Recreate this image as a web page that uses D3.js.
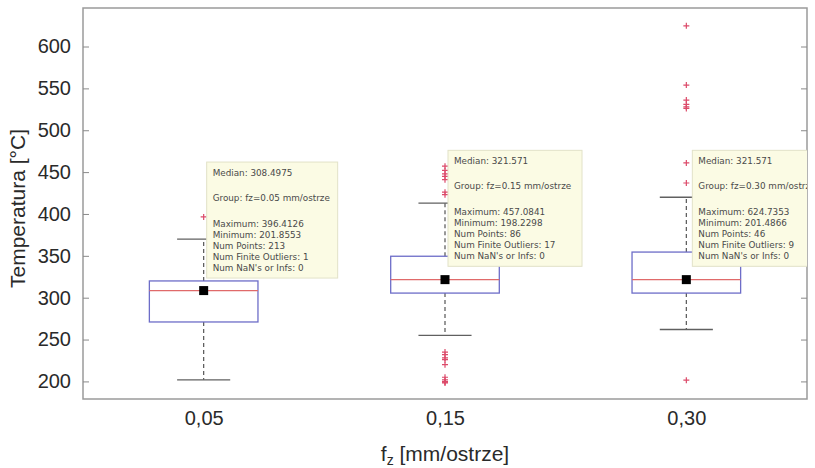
<!DOCTYPE html>
<html>
<head>
<meta charset="utf-8">
<script src="https://cdn.jsdelivr.net/npm/d3@7"></script>
<style>
  html, body { margin: 0; padding: 0; background: #ffffff; }
  svg { display: block; }
  text { font-family: "Liberation Sans", Arial, sans-serif; }
</style>
</head>
<body>
<svg id="chart" width="815" height="468"></svg>
<script>
// Cutting temperature grouped by feed per tooth
const categories = ["0,05", "0,15", "0,30"];
const groupNames = ["fz=0.05 mm/ostrze", "fz=0.15 mm/ostrze", "fz=0.30 mm/ostrze"];
const medians = [308.4975, 321.571, 321.571];
const q1 = [271, 305.5, 305.5];
const q3 = [320, 349.5, 354.5];
const whiskerLow = [201.8553, 255, 262];
const whiskerHigh = [370, 413, 420];
const maxima = [396.4126, 457.0841, 624.7353];
const minima = [201.8553, 198.2298, 201.4866];
const numPoints = [213, 86, 46];
const numOutliers = [1, 17, 9];
const numNaN = [0, 0, 0];
const outliers1 = [396.4126];
const outliers2 = [457.0841, 452, 448, 445, 441, 426, 423,
                   235, 232, 228, 226, 220, 205, 202, 200, 199, 198.2298];
const outliers3 = [624.7353, 554, 536, 531, 528, 526, 461, 437, 201.4866];
const outliers = [outliers1, outliers2, outliers3];
const yTicks = [200, 250, 300, 350, 400, 450, 500, 550, 600];

const svg = d3.select("#chart");
const frame = { left: 83, right: 807, top: 8, bottom: 399 };

const x = d3.scaleLinear().domain([0.5, 3.5]).range([frame.left, frame.right]);
const y = d3.scaleLinear().domain([179, 646]).range([frame.bottom, frame.top]);

const boxHalf = 0.225;   // half box width in category units
const capHalf = 0.11;    // half whisker-cap width

// axes frame
svg.append("rect")
  .attr("x", frame.left).attr("y", frame.top)
  .attr("width", frame.right - frame.left).attr("height", frame.bottom - frame.top)
  .attr("fill", "#ffffff").attr("stroke", "#9a9a9a").attr("stroke-width", 1.5);

// left axis: inward ticks + labels
const yAxisL = d3.axisLeft(y).tickValues(yTicks).tickSizeInner(-6).tickSizeOuter(0).tickPadding(12);
const gL = svg.append("g").attr("transform", `translate(${frame.left},0)`).call(yAxisL);
gL.select(".domain").remove();
gL.selectAll(".tick line").attr("stroke", "#8a8a8a");
gL.selectAll(".tick text")
  .attr("font-size", 20).attr("fill", "#2a2a2a")
  .style("font-family", "'Liberation Sans', Arial, sans-serif");

// right axis: inward ticks only
const yAxisR = d3.axisRight(y).tickValues(yTicks).tickSizeInner(-6).tickSizeOuter(0).tickFormat("");
const gR = svg.append("g").attr("transform", `translate(${frame.right},0)`).call(yAxisR);
gR.select(".domain").remove();
gR.selectAll(".tick line").attr("stroke", "#8a8a8a");

// bottom axis labels
const xAxis = d3.axisBottom(x).tickValues([1, 2, 3]).tickFormat((d, i) => categories[i])
  .tickSize(0).tickPadding(12);
const gB = svg.append("g").attr("transform", `translate(0,${frame.bottom})`).call(xAxis);
gB.select(".domain").remove();
gB.selectAll(".tick text")
  .attr("font-size", 20).attr("fill", "#2a2a2a")
  .style("font-family", "'Liberation Sans', Arial, sans-serif");

// axis titles
svg.append("text")
  .attr("transform", `translate(25,${(frame.top + frame.bottom) / 2 + 5}) rotate(-90)`)
  .attr("text-anchor", "middle").attr("font-size", 21).attr("fill", "#2a2a2a")
  .text("Temperatura [°C]");

const xt = svg.append("text")
  .attr("x", (frame.left + frame.right) / 2).attr("y", 461)
  .attr("text-anchor", "middle").attr("font-size", 21).attr("fill", "#2a2a2a");
xt.append("tspan").text("f");
xt.append("tspan").attr("font-size", 14).attr("dy", 4).text("z");
xt.append("tspan").attr("dy", -4).text(" [mm/ostrze]");

// boxes
const plot = svg.append("g");
const groups = categories.map((c, i) => ({
  pos: i + 1, med: medians[i], lo: q1[i], hi: q3[i],
  wl: whiskerLow[i], wh: whiskerHigh[i], out: outliers[i]
}));

groups.forEach(g => {
  const cx = x(g.pos);
  // whiskers (dashed)
  plot.append("line")
    .attr("x1", cx).attr("x2", cx).attr("y1", y(g.hi)).attr("y2", y(g.wh))
    .attr("stroke", "#555").attr("stroke-width", 1.2).attr("stroke-dasharray", "4,3");
  plot.append("line")
    .attr("x1", cx).attr("x2", cx).attr("y1", y(g.lo)).attr("y2", y(g.wl))
    .attr("stroke", "#555").attr("stroke-width", 1.2).attr("stroke-dasharray", "4,3");
  // caps
  [g.wh, g.wl].forEach(v => {
    plot.append("line")
      .attr("x1", x(g.pos - capHalf)).attr("x2", x(g.pos + capHalf))
      .attr("y1", y(v)).attr("y2", y(v))
      .attr("stroke", "#606060").attr("stroke-width", 1.4);
  });
  // box
  plot.append("rect")
    .attr("x", x(g.pos - boxHalf)).attr("y", y(g.hi))
    .attr("width", x(g.pos + boxHalf) - x(g.pos - boxHalf))
    .attr("height", y(g.lo) - y(g.hi))
    .attr("fill", "none").attr("stroke", "#6d6dc8").attr("stroke-width", 1.3);
  // median line
  plot.append("line")
    .attr("x1", x(g.pos - boxHalf)).attr("x2", x(g.pos + boxHalf))
    .attr("y1", y(g.med)).attr("y2", y(g.med))
    .attr("stroke", "#e06a6a").attr("stroke-width", 1.2);
  // outliers: red plus markers
  g.out.forEach(v => {
    const py = y(v);
    plot.append("path")
      .attr("d", `M${cx - 3},${py}H${cx + 3}M${cx},${py - 3}V${py + 3}`)
      .attr("stroke", "#dc4a6a").attr("stroke-width", 1.2).attr("fill", "none");
  });
});

// data tips, anchored by their top edge on the temperature scale
const tipLayout = [
  { dx: 3, top: 462, w: 131 },
  { dx: 3, top: 476, w: 134 },
  { dx: 6, top: 476, w: 134 }
];
svg.append("clipPath").attr("id", "frameClip")
  .append("rect").attr("x", frame.left).attr("y", frame.top)
  .attr("width", frame.right - frame.left).attr("height", frame.bottom - frame.top);

const tips = svg.append("g").attr("clip-path", "url(#frameClip)");
groups.forEach((g, i) => {
  const L = tipLayout[i];
  const tx = x(g.pos) + L.dx;
  const ty = y(L.top);
  const tg = tips.append("g").attr("transform", `translate(${tx},${ty})`);
  tg.append("rect").attr("width", L.w).attr("height", 116)
    .attr("fill", "#fbfbe4").attr("stroke", "#e2e2c8").attr("stroke-width", 1);
  const lines = [
    { t: `Median: ${medians[i]}`, yy: 14 },
    { t: `Group: ${groupNames[i]}`, yy: 39 },
    { t: `Maximum: ${maxima[i]}`, yy: 65 },
    { t: `Minimum: ${minima[i]}`, yy: 76 },
    { t: `Num Points: ${numPoints[i]}`, yy: 87 },
    { t: `Num Finite Outliers: ${numOutliers[i]}`, yy: 98 },
    { t: `Num NaN's or Infs: ${numNaN[i]}`, yy: 109 }
  ];
  lines.forEach(l => {
    tg.append("text").attr("x", 6).attr("y", l.yy)
      .attr("font-size", 8.8).attr("fill", "#4a4a4a")
      .style("font-family", "'DejaVu Sans', sans-serif")
      .text(l.t);
  });
});

// median markers (black squares) drawn on top
groups.forEach(g => {
  plot.append("rect")
    .attr("x", x(g.pos) - 4.5).attr("y", y(g.med) - 4.5)
    .attr("width", 9).attr("height", 9).attr("fill", "#000");
});
</script>
</body>
</html>
